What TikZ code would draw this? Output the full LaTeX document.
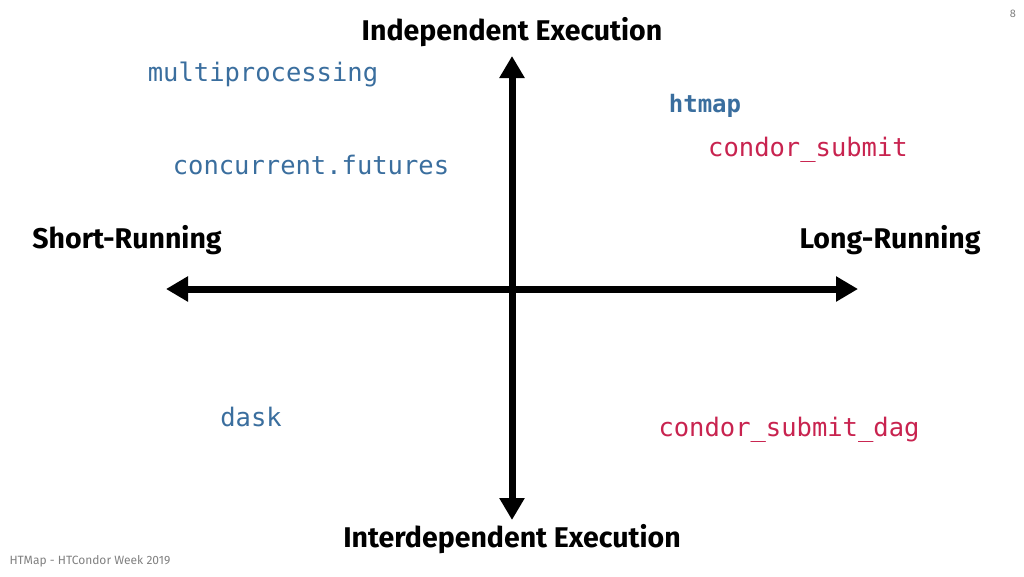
\documentclass[tikz,border=0pt]{standalone}
\usepackage{fontspec}
\setmainfont{Fira Sans}
\setmonofont{DejaVu Sans Mono}
\usetikzlibrary{arrows.meta}
\definecolor{pyblue}{HTML}{3A6E9E}
\definecolor{condred}{HTML}{C8234F}
\begin{document}
\begin{tikzpicture}[x=1pt,y=-1pt,
  axis/.style={line width=7pt,-{Triangle[length=22pt,width=24pt]}},
  head/.style={font=\fontsize{28.5}{32}\selectfont\bfseries},
  py/.style={font=\fontsize{25.5}{30}\selectfont\ttfamily,text=pyblue},
  cond/.style={font=\fontsize{25.5}{30}\selectfont\ttfamily,text=condred}]
\useasboundingbox (0,0) rectangle (1024,576);
\coordinate (c) at (512,289);
\coordinate (top) at (512,56);
\coordinate (bot) at (512,520);
\coordinate (lft) at (166,289);
\coordinate (rgt) at (858,289);
\draw[axis] (c) -- (top);
\draw[axis] (c) -- (bot);
\draw[axis] (c) -- (lft);
\draw[axis] (c) -- (rgt);
\node[head] (ie) at (512,32) {Independent Execution};
\node[head] (de) at (512,539) {Interdependent Execution};
\node[head] (sr) at (127,240) {Short-Running};
\node[head] (lr) at (890,240) {Long-Running};
\node[py] (mp) at (263,74) {multiprocessing};
\node[py,font=\fontsize{24}{28}\selectfont\ttfamily\bfseries] (hm) at (705,106) {htmap};
\node[cond] (cs) at (808,150) {condor\_submit};
\node[py] (cf) at (311,165) {concurrent.futures};
\node[py] (dk) at (251,417) {dask};
\node[cond] (csd) at (789,430) {condor\_submit\_dag};
\node[anchor=west,text=gray,font=\fontsize{12}{14}\selectfont] (ft) at (6,561) {HTMap - HTCondor Week 2019};
\node[text=gray,font=\fontsize{11}{13}\selectfont] (pg) at (1013,14) {8};
\end{tikzpicture}
\end{document}
